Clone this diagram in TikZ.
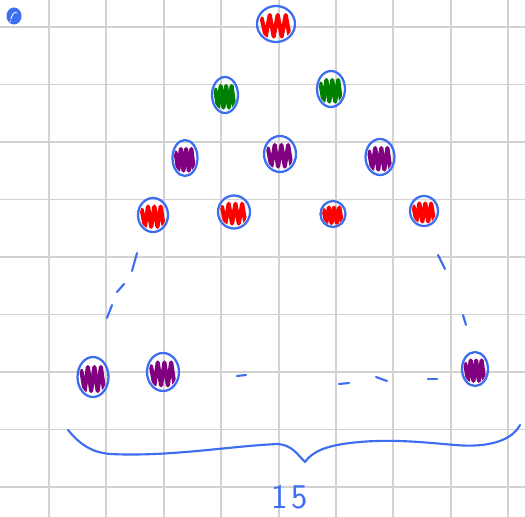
\documentclass[tikz,border=0pt]{standalone}
\usetikzlibrary{shapes.geometric}
\definecolor{penblue}{RGB}{62,110,240}
\definecolor{penred}{RGB}{255,0,0}
\definecolor{pengreen}{RGB}{0,128,0}
\definecolor{penpurple}{RGB}{128,0,128}
\definecolor{gridgray}{RGB}{210,210,210}
\tikzset{
  ballring/.style={ellipse, draw=penblue, line width=1.7pt, inner sep=0pt},
  scribble/.style={line width=3.1pt, line join=round, line cap=round},
  dashpiece/.style={draw=penblue, line width=1.6pt, line cap=round},
  gridline/.style={draw=gridgray, line width=1.4pt}
}
\newcommand\hball[6]{%
  \begin{scope}
    \clip (#2,#3) ellipse [x radius=#4*0.88, y radius=#5*0.88];
    \draw[scribble, #6] ({#2-0.75*#4},{#3-0.3*#5})
      \foreach \i in {1,...,7}{ -- ({#2+(-0.75+0.21*\i)*#4},{#3+0.6*#5*(2*mod(\i,2)-1)+0.1*#5}) };
  \end{scope}
  \node[ballring, minimum width={2*#4*0.75pt}, minimum height={2*#5*0.75pt}] (#1) at (#2,#3) {};
}
\begin{document}
\begin{tikzpicture}[x=0.75pt,y=-0.75pt]
\fill[white] (0,0) rectangle (525,517);
\useasboundingbox (0,0) rectangle (525,517);
% grid
\foreach \k in {0,...,8}{
  \draw[gridline] ({49+57.4*\k},0) -- ({49+57.4*\k},517);
  \draw[gridline] (0,{27+57.5*\k}) -- (525,{27+57.5*\k});
}
% top-left blob
\fill[penblue] (14,16) ellipse [x radius=7.5, y radius=8.5];
\draw[white, line width=0.6pt, line cap=round] (11,19) .. controls (12,14) and (15,11) .. (17,13);
\draw[white, line width=0.6pt, line cap=round] (10,22) -- (10.5,21);
% balls
\hball{r1}{276}{24}{19}{18}{penred}
\hball{g1}{225}{95}{13}{18}{pengreen}
\hball{g2}{331}{89}{14}{18}{pengreen}
\hball{p1}{185}{158}{12.5}{18}{penpurple}
\hball{p2}{280}{154}{16}{18}{penpurple}
\hball{p3}{380}{157}{14.5}{18}{penpurple}
\hball{q1}{153}{215}{15}{17}{penred}
\hball{q2}{234}{212}{16}{16.5}{penred}
\hball{q3}{333}{214}{12.5}{13}{penred}
\hball{q4}{424}{211}{14}{15}{penred}
\hball{b1}{93}{377}{15.5}{20}{penpurple}
\hball{b2}{163}{372}{16}{19}{penpurple}
\hball{b3}{475}{369}{13}{17}{penpurple}
% dashed sides
\coordinate (l1) at (137,253); \coordinate (l2) at (132,271);
\coordinate (l3) at (124,284); \coordinate (l4) at (117,292);
\coordinate (l5) at (112,305); \coordinate (l6) at (107,318);
\draw[dashpiece] (l1) -- (l2); \draw[dashpiece] (l3) -- (l4); \draw[dashpiece] (l5) -- (l6);
\coordinate (r1a) at (438,255); \coordinate (r1b) at (445,269);
\coordinate (r2a) at (463,315); \coordinate (r2b) at (466,325);
\draw[dashpiece] (r1a) -- (r1b); \draw[dashpiece] (r2a) -- (r2b);
\coordinate (h1a) at (237,376); \coordinate (h1b) at (246,375);
\coordinate (h2a) at (339,384); \coordinate (h2b) at (349,383);
\coordinate (h3a) at (376,377); \coordinate (h3b) at (387,381);
\coordinate (h4a) at (428,379); \coordinate (h4b) at (437,379);
\draw[dashpiece] (h1a) -- (h1b); \draw[dashpiece] (h2a) -- (h2b);
\draw[dashpiece] (h3a) -- (h3b); \draw[dashpiece] (h4a) -- (h4b);
% brace
\draw[penblue, line width=1.6pt, line cap=round, line join=round]
  (68,430) .. controls (80,444) and (90,452) .. (110,454)
  .. controls (170,457) and (230,446) .. (278,444)
  .. controls (292,445) and (298,455) .. (305,462)
  .. controls (312,452) and (325,446) .. (350,443)
  .. controls (390,438) and (430,443) .. (455,445)
  .. controls (490,448) and (512,440) .. (520,425);
% label
\node[text=penblue, font=\sffamily\fontsize{26}{26}\selectfont, inner sep=0pt] (lab) at (290,497) {1\kern3pt 5};
\end{tikzpicture}
\end{document}
